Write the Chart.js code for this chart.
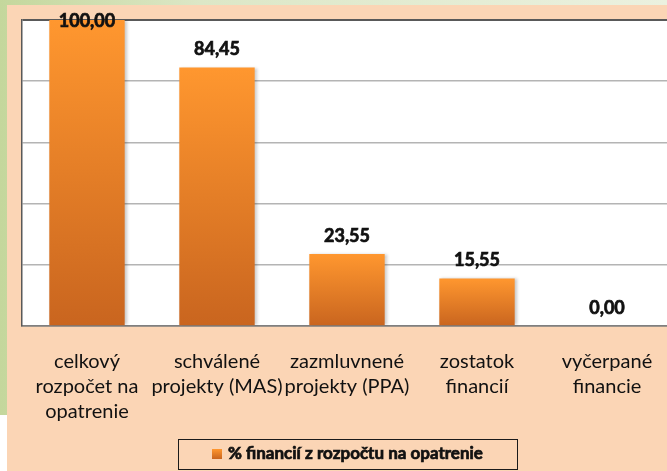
<!DOCTYPE html>
<html>
<head>
<meta charset="utf-8">
<script src="https://cdn.jsdelivr.net/npm/chart.js@4/dist/chart.umd.min.js"></script>
<style>
  html, body { margin: 0; padding: 0; }
  body { width: 667px; height: 471px; overflow: hidden; position: relative; background: #fff; font-family: Lato, sans-serif; }
  .green { position: absolute; left: 0; top: 0; width: 667px; height: 415px; background: linear-gradient(to right, #C4D79C 0%, #DCE7C6 30%, #EBF1DF 100%); }
  .sheet { position: absolute; left: 7px; top: 5px; width: 680px; height: 466px; background: #FBD5B5; }
</style>
</head>
<body>
<div class="green"></div>
<div class="sheet"><canvas id="chart" width="680" height="466"></canvas></div>
<script>
const categories = [
  ['celkový', 'rozpočet na', 'opatrenie'],
  ['schválené', 'projekty (MAS)'],
  ['zazmluvnené', 'projekty (PPA)'],
  ['zostatok', 'financií'],
  ['vyčerpané', 'financie']
];
const seriesName = '% financií z rozpočtu na opatrenie';
const percentValues = [100.00, 84.45, 23.55, 15.55, 0.00];

const barTop = '#FF972F';
const barBottom = '#C9651F';

const fmt = v => v.toFixed(2).replace('.', ',');

// heavy text, a bit thicker than the plain bold face
function heavyText(ctx, text, x, y) {
  ctx.lineWidth = 0.7;
  ctx.strokeStyle = ctx.fillStyle;
  ctx.strokeText(text, x, y);
  ctx.fillText(text, x, y);
}

// plot area background + bar shadow + value labels + boxed legend
const decor = {
  id: 'decor',
  beforeDraw(chart) {
    const { ctx, chartArea: a } = chart;
    ctx.save();
    ctx.fillStyle = '#ffffff';
    ctx.fillRect(a.left, a.top, a.right - a.left, a.bottom - a.top);
    ctx.restore();
  },
  beforeDatasetDraw(chart) {
    const ctx = chart.ctx;
    ctx.save();
    ctx.shadowColor = 'rgba(0,0,0,0.22)';
    ctx.shadowOffsetX = 2;
    ctx.shadowOffsetY = 0;
    ctx.shadowBlur = 3;
  },
  afterDatasetDraw(chart) {
    chart.ctx.restore();
  },
  afterDatasetsDraw(chart) {
    const { ctx, chartArea: a } = chart;
    const meta = chart.getDatasetMeta(0);
    ctx.save();
    ctx.font = 'bold 18px Lato';
    ctx.fillStyle = '#111';
    ctx.textAlign = 'center';
    ctx.textBaseline = 'middle';
    meta.data.forEach((bar, i) => {
      const y = Math.max(bar.y - 18, a.top + 1.5);
      heavyText(ctx, fmt(percentValues[i]), bar.x, y);
    });
    ctx.restore();
  },
  afterDraw(chart) {
    const ctx = chart.ctx;
    ctx.save();
    ctx.strokeStyle = '#1a1a1a';
    ctx.lineWidth = 1;
    ctx.strokeRect(171.5, 434.5, 339, 30);
    const g = ctx.createLinearGradient(0, 444, 0, 454);
    g.addColorStop(0, barTop);
    g.addColorStop(1, barBottom);
    ctx.fillStyle = g;
    ctx.fillRect(205, 444, 10, 10);
    ctx.fillStyle = '#111';
    ctx.font = 'bold 17px Lato';
    ctx.textAlign = 'left';
    ctx.textBaseline = 'middle';
    heavyText(ctx, chart.data.datasets[0].label, 221, 449);
    ctx.restore();
  }
};

new Chart(document.getElementById('chart'), {
  type: 'bar',
  data: {
    labels: categories,
    datasets: [{
      label: seriesName,
      data: percentValues,
      backgroundColor: (c) => {
        const chart = c.chart;
        if (!chart.chartArea || c.type !== 'data') return barTop;
        const y = chart.scales.y;
        const top = y.getPixelForValue(c.raw);
        const base = y.getPixelForValue(0);
        const g = chart.ctx.createLinearGradient(0, top, 0, Math.max(base, top + 1));
        g.addColorStop(0, barTop);
        g.addColorStop(1, barBottom);
        return g;
      },
      borderWidth: 0,
      barPercentage: 0.58,
      categoryPercentage: 1
    }]
  },
  options: {
    responsive: false,
    animation: false,
    layout: { padding: { left: 15, top: 15, right: 15, bottom: 0 } },
    plugins: {
      legend: { display: false },
      tooltip: { enabled: false }
    },
    scales: {
      x: {
        afterFit: (s) => { s.height = 145; },
        grid: { display: true, drawOnChartArea: false, drawTicks: false },
        border: { display: true, color: '#7F7F7F', width: 1.5 },
        ticks: {
          autoSkip: false,
          maxRotation: 0,
          padding: 23,
          color: '#111',
          font: { family: 'Lato', size: 20, lineHeight: 1.25 }
        }
      },
      y: {
        min: 0,
        max: 100,
        afterFit: (s) => { s.width = 0; },
        ticks: { display: false, stepSize: 20 },
        grid: {
          drawTicks: false,
          color: (c) => c.tick.value === 100 ? '#595959' : (c.tick.value === 0 ? '#7F7F7F' : '#B4B4B4'),
          lineWidth: (c) => c.tick.value === 100 ? 2 : 1.5
        },
        border: { display: true, color: '#595959', width: 1.5 }
      }
    }
  },
  plugins: [decor]
});
</script>
</body>
</html>
